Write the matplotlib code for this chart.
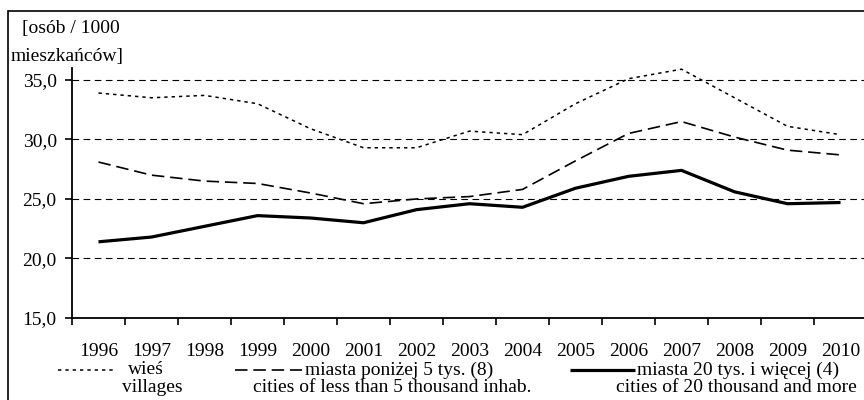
import numpy as np
import matplotlib
matplotlib.use("Agg")
import matplotlib.pyplot as plt
from matplotlib.lines import Line2D
from matplotlib.patches import Rectangle
from matplotlib.ticker import FuncFormatter, FixedLocator

plt.rcParams['font.family'] = ['Liberation Serif', 'DejaVu Serif']

years = ['1996', '1997', '1998', '1999', '2000', '2001', '2002', '2003',
         '2004', '2005', '2006', '2007', '2008', '2009', '2010']
villages = [33.9, 33.5, 33.7, 33.0, 30.9, 29.3, 29.3, 30.7, 30.4, 33.0,
            35.1, 35.9, 33.5, 31.1, 30.4]
small_towns = [28.1, 27.0, 26.5, 26.3, 25.5, 24.6, 25.0, 25.2, 25.8, 28.2,
               30.5, 31.5, 30.2, 29.1, 28.7]
big_towns = [21.4, 21.8, 22.7, 23.6, 23.4, 23.0, 24.1, 24.6, 24.3, 25.9,
             26.9, 27.4, 25.6, 24.6, 24.7]
yticks = [15, 20, 25, 30, 35]

W, H = 864, 400
fig = plt.figure(figsize=(8.64, 4.0), dpi=100)

# outer frame (right edge falls off the picture as in the original)
fig.add_artist(Rectangle((8 / W, -0.01), 1.1, (H - 11) / H + 0.01,
                         transform=fig.transFigure, fill=False,
                         edgecolor='black', linewidth=1.2))

ax = fig.add_axes([72 / W, 82 / H, 795 / W, 250 / H])
x = np.arange(len(years))

ax.plot(x, villages, color='black', linewidth=1.1, linestyle=(0, (2.2, 2.6)))
ax.plot(x, small_towns, color='black', linewidth=1.2, linestyle=(0, (7.5, 3.5)))
ax.plot(x, big_towns, color='black', linewidth=2.3, solid_capstyle='butt')

ax.set_xlim(-0.5, len(years) - 0.5)
ax.set_ylim(15, 36)
for v in yticks[1:]:
    ax.axhline(v, color='black', linewidth=0.8, linestyle=(0, (6, 4)), zorder=0)

ax.set_yticks(yticks)
ax.yaxis.set_major_formatter(FuncFormatter(lambda v, p: f"{v:.1f}".replace('.', ',')))
ax.tick_params(axis='y', direction='out', length=5, width=1.2, labelsize=14, pad=6)

ax.xaxis.set_major_locator(FixedLocator(np.arange(-0.5, len(years), 1.0)))
ax.xaxis.set_major_formatter(FuncFormatter(lambda v, p: ''))
ax.xaxis.set_minor_locator(FixedLocator(x))
ax.set_xticks(x, years, minor=True)
ax.tick_params(axis='x', which='major', direction='out', length=5, width=1.2)
ax.tick_params(axis='x', which='minor', length=0, labelsize=14, pad=18)

for s in ['top', 'right']:
    ax.spines[s].set_visible(False)
for s in ['left', 'bottom']:
    ax.spines[s].set_linewidth(1.3)

fig.text(22 / W, 1 - 29 / H, '[osób / 1000', fontsize=14, va='center', ha='left')
fig.text(11 / W, 1 - 56 / H, 'mieszkańców]', fontsize=14, va='center', ha='left')

# legend, drawn by hand
r1 = 1 - 370 / H
r2 = 1 - 388 / H
fig.add_artist(Line2D([58 / W, 115 / W], [r1, r1], color='black', linewidth=1.1,
                      linestyle=(0, (2.2, 2.6))))
fig.text(128 / W, r1, 'wieś', fontsize=14, va='center', ha='left')
fig.text(152 / W, r2, 'villages', fontsize=14, va='center', ha='center')

fig.add_artist(Line2D([235 / W, 302 / W], [r1, r1], color='black', linewidth=1.2,
                      linestyle=(0, (7.5, 3.5))))
fig.text(305 / W, r1, 'miasta poniżej 5 tys. (8)', fontsize=14, va='center', ha='left')
fig.text(392 / W, r2, 'cities of less than 5 thousand inhab.', fontsize=14,
         va='center', ha='center')

fig.add_artist(Line2D([570 / W, 635 / W], [r1, r1], color='black', linewidth=2.3,
                      solid_capstyle='butt'))
fig.text(637 / W, r1, 'miasta 20 tys. i więcej (4)', fontsize=14, va='center', ha='left')
fig.text(736 / W, r2, 'cities of 20 thousand and more', fontsize=14,
         va='center', ha='center')

fig.savefig('out.png', dpi=100)
